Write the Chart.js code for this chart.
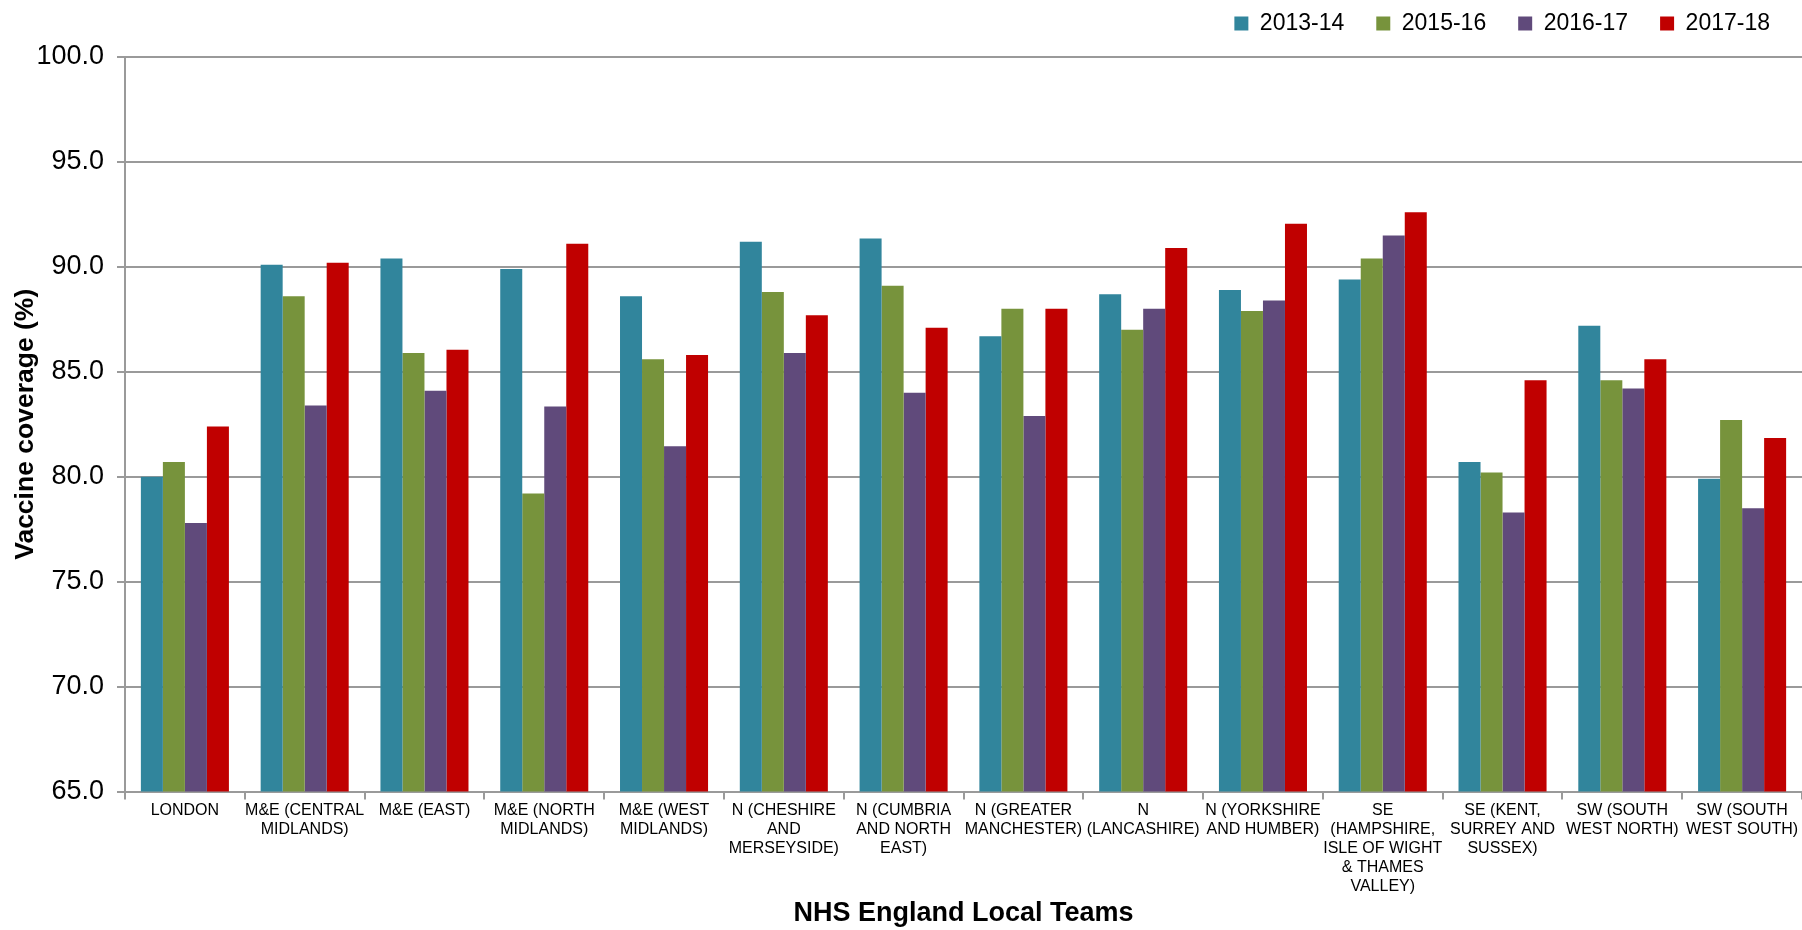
<!DOCTYPE html>
<html>
<head>
<meta charset="utf-8">
<script src="https://cdn.jsdelivr.net/npm/chart.js@4/dist/chart.umd.min.js"></script>
<style>
  html, body { margin: 0; padding: 0; background: #fff; }
  #wrap { width: 1802px; height: 930px; }
</style>
</head>
<body>
<div id="wrap"><canvas id="chart" width="1802" height="930"></canvas></div>
<script>
// NHS England local teams (multi-line labels as in the source)
const teams = [
  ['LONDON'],
  ['M&E (CENTRAL', 'MIDLANDS)'],
  ['M&E (EAST)'],
  ['M&E (NORTH', 'MIDLANDS)'],
  ['M&E (WEST', 'MIDLANDS)'],
  ['N (CHESHIRE', 'AND', 'MERSEYSIDE)'],
  ['N (CUMBRIA', 'AND NORTH', 'EAST)'],
  ['N (GREATER', 'MANCHESTER)'],
  ['N', '(LANCASHIRE)'],
  ['N (YORKSHIRE', 'AND HUMBER)'],
  ['SE', '(HAMPSHIRE,', 'ISLE OF WIGHT', '& THAMES', 'VALLEY)'],
  ['SE (KENT,', 'SURREY AND', 'SUSSEX)'],
  ['SW (SOUTH', 'WEST NORTH)'],
  ['SW (SOUTH', 'WEST SOUTH)']
];

const years = ['2013-14', '2015-16', '2016-17', '2017-18'];

const cov1314 = [80.0, 90.1, 90.4, 89.9, 88.6, 91.2, 91.35, 86.7, 88.7, 88.9, 89.4, 80.7, 87.2, 79.9];
const cov1516 = [80.7, 88.6, 85.9, 79.2, 85.6, 88.8, 89.1, 88.0, 87.0, 87.9, 90.4, 80.2, 84.6, 82.7];
const cov1617 = [77.8, 83.4, 84.1, 83.35, 81.45, 85.9, 84.0, 82.9, 88.0, 88.4, 91.5, 78.3, 84.2, 78.5];
const cov1718 = [82.4, 90.2, 86.05, 91.1, 85.8, 87.7, 87.1, 88.0, 90.9, 92.05, 92.6, 84.6, 85.6, 81.85];

const colours = ['#31859C', '#77933C', '#604A7B', '#C00000'];
const gridGrey = '#9a9a9a';
const FONT = "'Liberation Sans', Arial, sans-serif";

// leave a bit more room under the legend before the plot starts
const legendRoom = {
  id: 'legendRoom',
  beforeInit(chart) {
    const fit = chart.legend.fit;
    chart.legend.fit = function () {
      fit.bind(chart.legend)();
      this.height += 12;
    };
  }
};

new Chart(document.getElementById('chart'), {
  type: 'bar',
  data: {
    labels: teams,
    datasets: [cov1314, cov1516, cov1617, cov1718].map((d, i) => ({
      label: years[i],
      data: d,
      backgroundColor: colours[i],
      borderWidth: 0,
      categoryPercentage: 0.735,
      barPercentage: 1.0
    }))
  },
  options: {
    responsive: false,
    animation: false,
    layout: { padding: { top: -20, right: 0, bottom: 0, left: 0 } },
    plugins: {
      legend: {
        position: 'top',
        align: 'end',
        labels: {
          boxWidth: 14,
          boxHeight: 14,
          padding: 32,
          color: '#000',
          font: { family: FONT, size: 23 }
        }
      },
      tooltip: { enabled: true }
    },
    scales: {
      x: {
        grid: {
          drawOnChartArea: false,
          drawTicks: true,
          tickLength: 8,
          color: gridGrey,
          lineWidth: 2
        },
        border: { color: gridGrey, width: 2 },
        ticks: {
          color: '#000',
          padding: 1,
          autoSkip: false,
          maxRotation: 0,
          font: { family: FONT, size: 16, lineHeight: 1.2 }
        },
        title: {
          display: true,
          text: 'NHS England Local Teams',
          color: '#000',
          padding: { top: 0, bottom: 0 },
          font: { family: FONT, size: 27, weight: 'bold' }
        }
      },
      y: {
        min: 65,
        max: 100,
        afterFit(scale) { scale.width = 125; },
        grid: {
          color: gridGrey,
          lineWidth: 2,
          tickLength: 8
        },
        border: { color: gridGrey, width: 2 },
        ticks: {
          stepSize: 5,
          color: '#000',
          padding: 13,
          font: { family: FONT, size: 27 },
          callback: v => v.toFixed(1)
        },
        title: {
          display: true,
          text: 'Vaccine coverage (%)',
          color: '#000',
          padding: { top: 10, bottom: 0 },
          font: { family: FONT, size: 26.5, weight: 'bold' }
        }
      }
    }
  },
  plugins: [legendRoom]
});
</script>
</body>
</html>
